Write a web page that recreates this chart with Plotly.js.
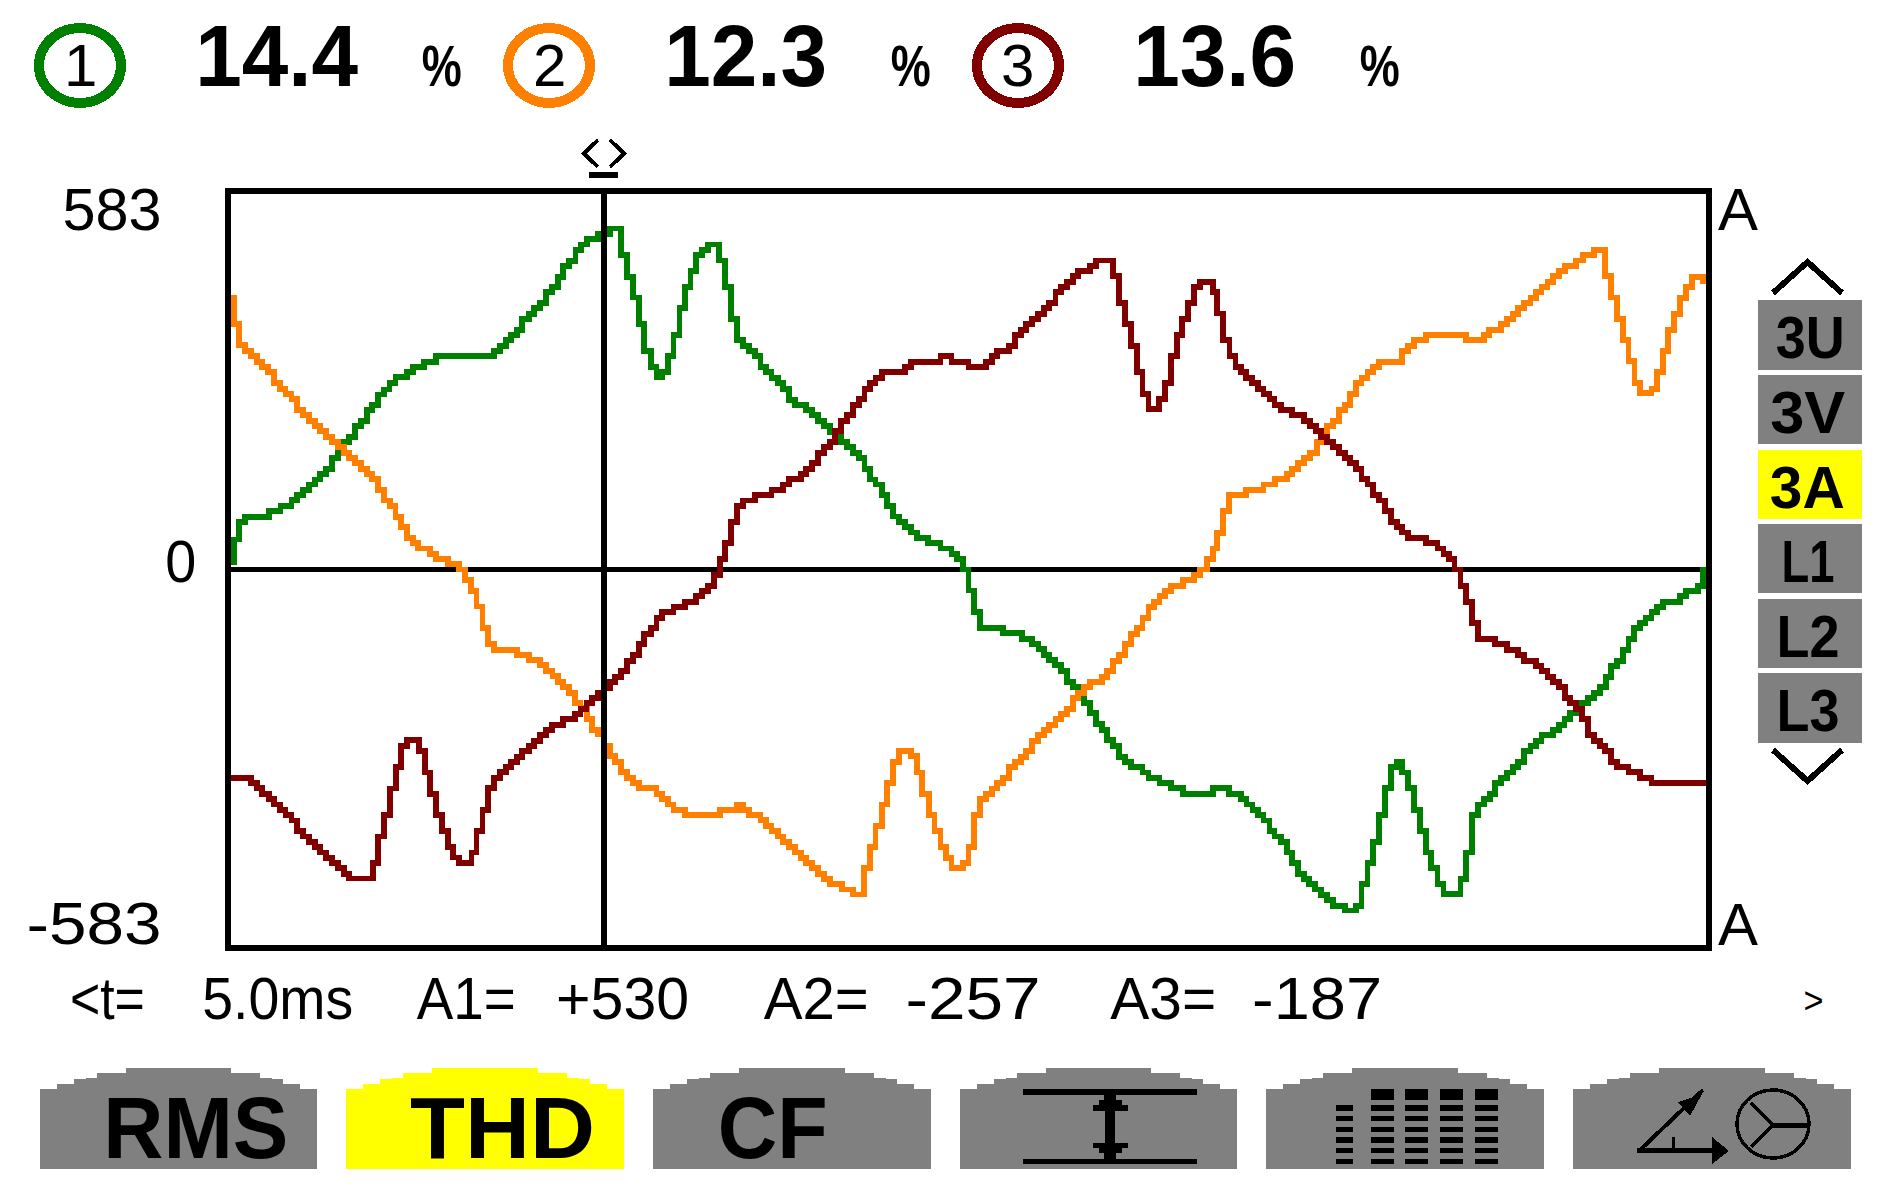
<!DOCTYPE html>
<html>
<head>
<meta charset="utf-8">
<script src="https://cdn.plot.ly/plotly-3.0.1.min.js"></script>
<style>
html,body{margin:0;padding:0;background:#fff;}
#chart{width:1888px;height:1196px;}
.js-line{stroke-linejoin:miter!important;stroke-linecap:square!important;shape-rendering:crispEdges;}
.shapelayer path{shape-rendering:crispEdges;}
</style>
</head>
<body>
<div id="chart"></div>
<script>
// ---- Data: time in ms, current in A at each step of the trace ----
const phase1T = [-0.08,0.00,0.07,0.15,0.47,0.63,0.78,0.85,0.94,1.02,1.10,1.17,1.25,1.33,1.41,1.49,1.56,1.64,1.72,1.80,1.87,1.95,2.03,2.11,2.19,2.35,2.43,2.58,2.74,3.53,3.61,3.69,3.76,3.84,3.91,4.00,4.07,4.15,4.23,4.31,4.39,4.46,4.54,4.63,4.71,4.79,4.94,5.10,5.25,5.33,5.41,5.49,5.56,5.65,5.73,5.80,5.88,5.96,6.04,6.12,6.19,6.27,6.35,6.43,6.58,6.66,6.74,6.82,6.90,6.98,7.06,7.14,7.21,7.29,7.38,7.45,7.53,7.61,7.76,7.84,7.92,8.00,8.08,8.16,8.23,8.31,8.39,8.47,8.55,8.62,8.70,8.79,8.86,8.94,9.02,9.10,9.18,9.26,9.41,9.58,9.73,9.80,9.88,9.96,10.03,10.12,10.43,10.68,10.82,10.91,10.98,11.05,11.13,11.21,11.30,11.38,11.45,11.53,11.61,11.69,11.77,11.84,11.92,12.00,12.08,12.16,12.32,12.40,12.55,12.71,12.87,13.27,13.49,13.65,13.73,13.81,13.89,13.96,14.04,14.11,14.20,14.28,14.35,14.43,14.51,14.58,14.66,14.74,14.82,14.90,15.06,15.21,15.29,15.37,15.45,15.53,15.61,15.69,15.77,15.84,15.92,16.00,16.08,16.16,16.23,16.32,16.40,16.63,16.71,16.79,16.87,16.95,17.03,17.10,17.18,17.26,17.34,17.41,17.49,17.58,17.66,17.73,17.89,17.97,18.04,18.12,18.20,18.28,18.36,18.44,18.52,18.60,18.67,18.75,18.83,18.91,18.98,19.07,19.14,19.22,19.30,19.38,19.61,19.69,19.85,19.92,20.00];
const phase1A = [12,47,74,82,92,100,109,117,125,133,141,150,158,175,183,200,208,225,233,250,258,274,282,292,301,309,317,325,334,342,350,359,367,375,392,400,409,417,434,442,458,475,483,500,509,517,525,534,493,458,426,384,342,317,301,309,334,367,409,442,467,493,500,509,484,442,392,359,350,342,334,317,309,300,292,283,266,258,250,242,233,225,215,208,200,192,183,175,158,141,133,117,99,83,74,67,58,49,41,33,24,16,0,-33,-67,-92,-100,-109,-117,-125,-134,-142,-150,-159,-176,-184,-193,-209,-225,-242,-251,-267,-276,-293,-301,-309,-318,-326,-334,-342,-351,-342,-351,-359,-368,-376,-384,-393,-410,-418,-427,-443,-460,-477,-485,-493,-501,-510,-518,-527,-534,-527,-493,-460,-427,-384,-342,-309,-301,-318,-342,-376,-410,-443,-468,-493,-508,-485,-443,-384,-368,-359,-351,-334,-326,-318,-309,-301,-284,-276,-268,-259,-251,-243,-234,-225,-217,-209,-201,-193,-184,-168,-151,-143,-126,-109,-92,-84,-76,-67,-59,-51,-42,-34,-26,0,0];

const phase2T = [-0.08,0.00,0.07,0.15,0.23,0.31,0.38,0.46,0.54,0.62,0.70,0.78,0.85,0.94,1.02,1.10,1.17,1.25,1.33,1.41,1.49,1.56,1.64,1.72,1.80,1.87,1.95,2.03,2.12,2.19,2.26,2.35,2.43,2.50,2.66,2.74,2.90,3.05,3.13,3.21,3.29,3.37,3.45,3.53,3.84,4.00,4.15,4.23,4.32,4.39,4.46,4.54,4.62,4.70,4.79,4.86,4.94,5.02,5.10,5.17,5.25,5.33,5.41,5.49,5.73,5.80,5.88,5.96,6.12,6.59,6.82,6.90,6.98,7.14,7.21,7.29,7.38,7.45,7.53,7.61,7.69,7.76,7.84,7.92,8.00,8.08,8.24,8.39,8.54,8.62,8.70,8.79,8.86,8.94,9.02,9.18,9.26,9.33,9.42,9.50,9.58,9.65,9.73,9.89,9.96,10.03,10.12,10.20,10.28,10.35,10.43,10.51,10.59,10.67,10.74,10.82,10.90,10.98,11.05,11.14,11.21,11.30,11.38,11.45,11.53,11.61,11.77,11.84,11.92,12.00,12.08,12.16,12.24,12.32,12.40,12.47,12.55,12.62,12.71,12.87,13.02,13.10,13.19,13.27,13.33,13.41,13.49,13.72,13.96,14.12,14.28,14.35,14.43,14.51,14.59,14.68,14.74,14.82,14.90,14.98,15.06,15.13,15.21,15.29,15.37,15.45,15.53,15.84,15.92,16.00,16.16,16.71,16.95,17.02,17.18,17.26,17.34,17.41,17.49,17.58,17.66,17.73,17.81,17.89,17.97,18.05,18.20,18.29,18.44,18.59,18.67,18.75,18.83,18.91,18.99,19.07,19.22,19.30,19.38,19.45,19.53,19.61,19.69,19.77,19.92,20.00];
const phase2A = [426,384,351,342,334,325,317,309,292,283,275,267,250,242,233,225,217,208,200,192,183,175,167,158,150,142,124,108,99,82,67,49,41,33,24,16,8,0,-17,-34,-58,-92,-117,-126,-134,-142,-150,-159,-167,-176,-184,-193,-209,-217,-234,-251,-258,-276,-292,-301,-317,-327,-334,-342,-352,-359,-368,-376,-384,-376,-368,-376,-384,-392,-402,-410,-418,-427,-435,-443,-452,-460,-468,-477,-485,-493,-501,-509,-467,-435,-402,-368,-334,-301,-284,-292,-318,-351,-384,-410,-435,-452,-467,-460,-435,-384,-359,-351,-343,-334,-327,-309,-301,-293,-284,-268,-259,-251,-243,-234,-226,-218,-201,-193,-184,-176,-168,-159,-143,-134,-117,-101,-92,-76,-59,-51,-42,-34,-26,-17,-9,0,16,33,57,92,117,124,133,142,150,158,167,175,183,200,208,225,233,250,258,275,292,300,309,317,325,342,350,359,367,359,367,375,384,392,400,409,417,425,434,442,450,459,467,475,484,493,500,459,426,392,359,326,292,276,283,309,342,375,400,425,442,458,451,451];

const phase3T = [-0.08,0.23,0.31,0.38,0.47,0.54,0.62,0.70,0.78,0.85,0.94,1.02,1.10,1.17,1.25,1.33,1.41,1.49,1.56,1.88,1.95,2.03,2.12,2.20,2.27,2.35,2.51,2.59,2.66,2.74,2.82,2.90,2.97,3.05,3.22,3.29,3.37,3.45,3.53,3.61,3.69,3.76,3.84,3.91,4.00,4.07,4.15,4.23,4.31,4.46,4.62,4.70,4.78,4.86,4.94,5.02,5.10,5.17,5.25,5.33,5.41,5.49,5.56,5.65,5.73,5.80,5.96,6.12,6.27,6.35,6.43,6.51,6.59,6.66,6.74,6.82,6.90,7.06,7.29,7.45,7.53,7.69,7.76,7.84,7.92,8.00,8.08,8.15,8.23,8.31,8.39,8.47,8.55,8.62,8.70,8.79,9.10,9.18,9.58,9.73,9.96,10.20,10.28,10.35,10.51,10.59,10.67,10.74,10.82,10.90,10.98,11.05,11.14,11.21,11.30,11.38,11.45,11.61,11.69,11.92,12.00,12.08,12.16,12.24,12.32,12.40,12.54,12.62,12.71,12.79,12.86,12.94,13.02,13.10,13.27,13.33,13.41,13.50,13.58,13.65,13.72,13.80,13.88,13.96,14.04,14.11,14.20,14.35,14.51,14.59,14.67,14.74,14.82,14.90,14.98,15.06,15.13,15.21,15.29,15.37,15.45,15.53,15.61,15.69,15.77,15.84,15.92,16.16,16.32,16.40,16.47,16.55,16.63,16.71,16.79,16.87,17.10,17.26,17.41,17.49,17.66,17.73,17.81,17.89,17.97,18.05,18.12,18.20,18.28,18.36,18.44,18.52,18.59,18.67,18.75,18.91,19.07,19.22,20.00];
const phase3A = [-326,-334,-342,-352,-359,-368,-377,-384,-393,-410,-418,-427,-435,-443,-452,-460,-468,-477,-484,-460,-418,-384,-343,-309,-276,-267,-284,-318,-351,-384,-410,-435,-451,-459,-443,-410,-377,-342,-326,-317,-309,-301,-293,-284,-276,-268,-259,-251,-243,-234,-226,-218,-209,-201,-193,-186,-176,-168,-159,-143,-134,-117,-101,-92,-76,-67,-59,-51,-42,-34,-26,-9,16,41,74,99,108,117,124,133,142,150,158,167,183,192,200,217,233,242,258,267,283,292,300,309,317,325,334,325,317,325,334,342,350,367,375,384,392,400,409,417,434,442,450,459,467,475,484,459,417,384,350,309,275,251,267,292,334,367,392,417,442,450,434,401,359,334,317,309,300,292,283,275,267,258,250,242,233,225,217,208,200,192,183,175,167,158,142,133,117,108,92,74,67,58,49,41,33,24,16,0,-26,-51,-84,-109,-117,-126,-134,-143,-151,-159,-168,-176,-184,-201,-209,-218,-234,-259,-268,-276,-284,-301,-309,-317,-326,-334,-334];

const phaseNames = ['A1','A2','A3'];
const phaseColors = ['#008000','#ff8000','#800000'];
const thdValues = ['14.4','12.3','13.6'];
const circleDigits = ['1','2','3'];
const scaleLabels = ['583','0','-583'];
const cursorTime = 5.02;
const readouts = ['<t=','5.0ms','A1=','+530','A2=','-257','A3=','-187','>'];
const sideLabels = ['3U','3V','3A','L1','L2','L3'];
const sideActive = '3A';
const tabLabels = ['RMS','THD','CF'];
const tabActive = 'THD';

// ---- Page geometry helpers ----
const W = 1888, H = 1196, GRAY = '#808080', YEL = '#ffff00', BLK = '#000000';
const fx = x => x / W, fy = y => 1 - y / H;

const shapes = [], annotations = [], stretch = [];
const SANS = '"Liberation Sans Narrow","Liberation Sans",Arial,sans-serif';

function rect(x0, y0, x1, y1, color) {
  shapes.push({type:'rect', xref:'paper', yref:'paper', x0:fx(x0), x1:fx(x1), y0:fy(y1), y1:fy(y0),
    fillcolor:color, line:{width:0}});
}
function poly(pts, opt) {
  const o = opt || {};
  const path = pts.map((p,i) => (i ? 'L' : 'M') + fx(p[0]) + ',' + fy(p[1])).join(' ') + (o.closed ? ' Z' : '');
  shapes.push({type:'path', xref:'paper', yref:'paper', path,
    fillcolor: o.closed ? (o.fill || BLK) : 'rgba(0,0,0,0)',
    line:{color:o.color || BLK, width:o.width === undefined ? 0 : o.width}});
}
function ring(cx, cy, rx, ry, color, width) {
  shapes.push({type:'circle', xref:'paper', yref:'paper', x0:fx(cx-rx), x1:fx(cx+rx), y0:fy(cy+ry), y1:fy(cy-ry),
    fillcolor:'rgba(0,0,0,0)', line:{color, width}});
}
function label(text, x0, x1, yc, size, bold, fit) {
  annotations.push({xref:'paper', yref:'paper', x:fx((x0+x1)/2), y:fy(yc), xanchor:'center', yanchor:'middle',
    text: text.replace(/</g,'&lt;').replace(/>/g,'&gt;'), showarrow:false, borderpad:0,
    font:{family:SANS, size, color:BLK, weight: bold ? 700 : 400}});
  stretch.push(fit === false ? 0 : x1 - x0);
}

// ---- Header: phase circles and THD values ----
const headerStep = 469;
thdValues.forEach((v, i) => {
  const dx = i * headerStep;
  ring(80 + dx, 65.5, 41, 37.5, phaseColors[i], 10);
  label(circleDigits[i], 60 + dx, 100 + dx, 65.5, 60, false, false);
  label(v, 195 + dx, 358 + dx, 55, 88, true);
  label('%', 422 + dx, 462 + dx, 65.5, 58, true);
});

// ---- Cursor marker ----
poly([[598,140],[584,153.5],[598,167]], {width:4});
poly([[610,140],[624,153.5],[610,167]], {width:4});
rect(589,172,618,178,BLK);

// ---- Scale labels ----
label(scaleLabels[0], 62, 161, 209.5, 60, false);
label(scaleLabels[1], 165, 196, 561.5, 60, false);
label(scaleLabels[2], 26, 161, 923, 60, false);
label('A', 1718, 1758, 209.5, 60, false);
label('A', 1718, 1758, 924, 60, false);

// ---- Readout row ----
[[70,145],[202,353],[416,515],[556,689],[763,868],[905,1040],[1110,1216],[1252,1382],[1803,1823]].forEach((b,i) => {
  label(readouts[i], b[0], b[1], i === 8 ? 1000 : 998.5, i === 8 ? 36 : 60, false);
});

// ---- Side buttons ----
const sideBoxes = [[300,370,337.5,1776,1845],[375,444,412.5,1770,1845],[450,519,487,1770,1845],
                   [524,593,561.5,1781,1834],[599,668,636,1776,1839],[673,743,710.5,1776,1839]];
sideLabels.forEach((s,i) => {
  const b = sideBoxes[i];
  rect(1758, b[0], 1862, b[1], s === sideActive ? YEL : GRAY);
  label(s, b[3], b[4], b[2], 60, true);
});
poly([[1773,293],[1807.5,262],[1842,293]], {width:6});
poly([[1773,750],[1807.5,781],[1842,750]], {width:6});

// ---- Bottom tabs ----
function tab(x0, x1, color) {
  const steps = [[0,1089],[17,1084],[34,1079],[57,1073],[86,1068]];
  const pts = [[x0,1169]];
  steps.forEach(s => { pts.push([x0+s[0], s[1]+ (s[0]?5:0)]); pts.push([x0+s[0], s[1]]); });
  steps.slice().reverse().forEach(s => { pts.push([x1-s[0], s[1]]); pts.push([x1-s[0], s[1]+(s[0]?5:0)]); });
  pts.push([x1,1169]);
  poly(pts, {closed:true, fill:color});
}
const tabX = [[40,317],[346,624],[653,931],[960,1237],[1266,1544],[1573,1851]];
const tabTextX = [[103,288],[410,595],[717,827]];
tabX.forEach((t,i) => tab(t[0], t[1], tabLabels[i] === tabActive ? YEL : GRAY));
tabLabels.forEach((s,i) => label(s, tabTextX[i][0], tabTextX[i][1], 1127, 88, true));

// Icon: range
rect(1023,1089,1197,1095,BLK); rect(1023,1159,1197,1164,BLK); rect(1105,1095,1115,1159,BLK);
rect(1104,1095,1116,1100,BLK); rect(1099,1100,1122,1105,BLK); rect(1093,1105,1128,1111,BLK);
rect(1093,1143,1128,1148,BLK); rect(1099,1148,1122,1153,BLK); rect(1104,1153,1116,1159,BLK);

// Icon: harmonics grid
[[1371,1394],[1405,1428],[1440,1463],[1475,1498]].forEach(c => {
  rect(c[0],1089,c[1],1100,BLK);
  [[1105,1111],[1116,1121],[1127,1132],[1137,1143],[1148,1153],[1159,1164]].forEach(r => rect(c[0],r[0],c[1],r[1],BLK));
});
[[1105,1111],[1116,1121],[1127,1132],[1137,1143],[1148,1153],[1159,1164]].forEach(r => rect(1336,r[0],1353,r[1],BLK));

// Icon: phase diagram
poly([[1641,1149],[1703,1090]], {width:4});
poly([[1702,1094],[1678,1102],[1690,1116]], {closed:true});
rect(1637,1148,1720,1153,BLK);
poly([[1712,1137],[1712,1164],[1729,1151]], {closed:true});
rect(1672,1137,1675,1148,BLK);
ring(1773,1124,36,34,BLK,3.5);
rect(1773,1122.5,1808,1127.5,BLK);
poly([[1751,1103],[1773,1125]], {width:3});
poly([[1751,1147],[1773,1125]], {width:3});

// Cursor line
shapes.push({type:'line', xref:'x', yref:'paper', x0:cursorTime, x1:cursorTime, y0:fy(945), y1:fy(194),
  line:{color:BLK, width:6}});

// ---- Traces ----
const series = [[phase1T,phase1A],[phase2T,phase2A],[phase3T,phase3A]];
const traces = series.map((s,i) => ({
  type:'scatter', mode:'lines', name:phaseNames[i], x:s[0], y:s[1],
  line:{color:phaseColors[i], width:5.8, shape:'hv'}, hoverinfo:'skip', showlegend:false
}));

const layout = {
  width:W, height:H, margin:{l:0,r:0,t:0,b:0,pad:0},
  paper_bgcolor:'#ffffff', plot_bgcolor:'#ffffff', showlegend:false,
  xaxis:{domain:[fx(231),fx(1706)], range:[-0.04,19.96], showgrid:false, zeroline:false,
         showticklabels:false, ticks:'', showline:true, mirror:true, linecolor:BLK, linewidth:6, fixedrange:true},
  yaxis:{domain:[fy(945),fy(194)], range:[-588,588], showgrid:false, zeroline:true, zerolinecolor:BLK, zerolinewidth:5,
         showticklabels:false, ticks:'', showline:true, mirror:true, linecolor:BLK, linewidth:6, fixedrange:true},
  shapes, annotations
};

Plotly.newPlot('chart', traces, layout, {displayModeBar:false, staticPlot:true}).then(gd => {
  gd.querySelectorAll('.annotation-text').forEach((el,i) => {
    if (stretch[i]) { el.setAttribute('textLength', stretch[i]); el.setAttribute('lengthAdjust','spacingAndGlyphs'); }
  });
});
</script>
</body>
</html>
